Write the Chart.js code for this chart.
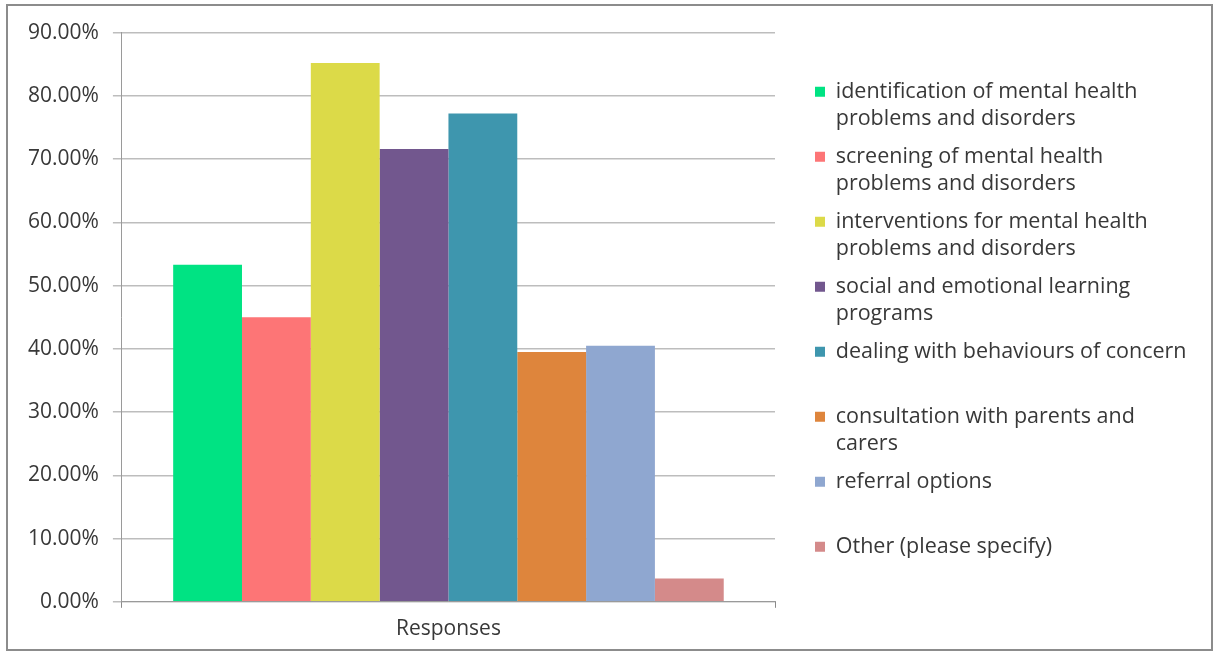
<!DOCTYPE html>
<html>
<head>
<meta charset="utf-8">
<title>Responses</title>
<script src="https://cdn.jsdelivr.net/npm/chart.js@4/dist/chart.umd.min.js"></script>
<style>
    html, body { margin: 0; padding: 0; background: #ffffff; }
    #wrap {
        position: absolute;
        left: 6px;
        top: 4px;
        width: 1203px;
        height: 643px;
        border: 2px solid #8c8c8c;
        background: #ffffff;
    }
</style>
</head>
<body>
<div id="wrap"><canvas id="responsesChart" width="1203" height="643"></canvas></div>
<script>
// single category, one bar per option
const categories = ['Responses'];

// legend text, two lines each so every entry takes the same height
const seriesNames = [
    ['identification of mental health', 'problems and disorders'],
    ['screening of mental health', 'problems and disorders'],
    ['interventions for mental health', 'problems and disorders'],
    ['social and emotional learning', 'programs'],
    ['dealing with behaviours of concern', ''],
    ['consultation with parents and', 'carers'],
    ['referral options', ''],
    ['Other (please specify)', '']
];

// percentage of respondents
const seriesValues = [53.3, 45.0, 85.2, 71.6, 77.2, 39.5, 40.5, 3.7];

const seriesColors = [
    '#00E383', '#FD7576', '#DCDA48', '#72578E',
    '#3E96AE', '#DE853C', '#8FA7D0', '#D48A8A'
];

const yTicks = [0, 10, 20, 30, 40, 50, 60, 70, 80, 90];

const FONT = "'Open Sans', 'Noto Sans', sans-serif";
const LEGEND_WIDTH = 393;

// the legend measures multi-line labels too narrow, so pin its width
const legendWidth = {
    id: 'legendWidth',
    beforeLayout(chart) {
        const lg = chart.legend;
        if (lg && !lg._pinned) {
            const fit = lg.fit.bind(lg);
            lg.fit = function () {
                fit();
                this.width = LEGEND_WIDTH;
            };
            lg._pinned = true;
        }
    }
};

const ctx = document.getElementById('responsesChart');

new Chart(ctx, {
    type: 'bar',
    data: {
        labels: categories,
        datasets: seriesNames.map((name, i) => ({
            label: name,
            data: [seriesValues[i]],
            backgroundColor: seriesColors[i],
            borderWidth: 0,
            barPercentage: 1.0,
            categoryPercentage: 0.843
        }))
    },
    options: {
        responsive: false,
        animation: false,
        layout: {
            padding: { left: 6, top: 14, right: 14, bottom: -2 }
        },
        plugins: {
            tooltip: { enabled: false },
            legend: {
                position: 'right',
                align: 'center',
                labels: {
                    boxWidth: 10,
                    boxHeight: 10,
                    padding: 11,
                    color: '#383838',
                    font: { family: FONT, size: 21.5, lineHeight: 1.2558 }
                }
            }
        },
        scales: {
            x: {
                grid: {
                    drawOnChartArea: false,
                    drawTicks: true,
                    tickLength: 6,
                    color: '#8a8a8a'
                },
                border: { color: '#9a9a9a', width: 1 },
                ticks: {
                    color: '#383838',
                    padding: 9,
                    font: { family: FONT, size: 21 }
                }
            },
            y: {
                min: 0,
                max: 90,
                afterBuildTicks: scale => {
                    scale.ticks = yTicks.map(v => ({ value: v }));
                },
                grid: {
                    color: '#bdbdbd',
                    lineWidth: 1.5,
                    tickLength: 9
                },
                border: { color: '#9a9a9a', width: 1 },
                ticks: {
                    color: '#383838',
                    padding: 14,
                    font: { family: FONT, size: 21 },
                    callback: v => v.toFixed(2) + '%'
                }
            },
            // empty spacer between the plot and the legend
            gap: {
                position: 'right',
                display: true,
                grid: { display: false },
                border: { display: false },
                ticks: { display: false },
                afterFit: scale => { scale.width = 29; }
            }
        }
    },
    plugins: [legendWidth]
});
</script>
</body>
</html>
